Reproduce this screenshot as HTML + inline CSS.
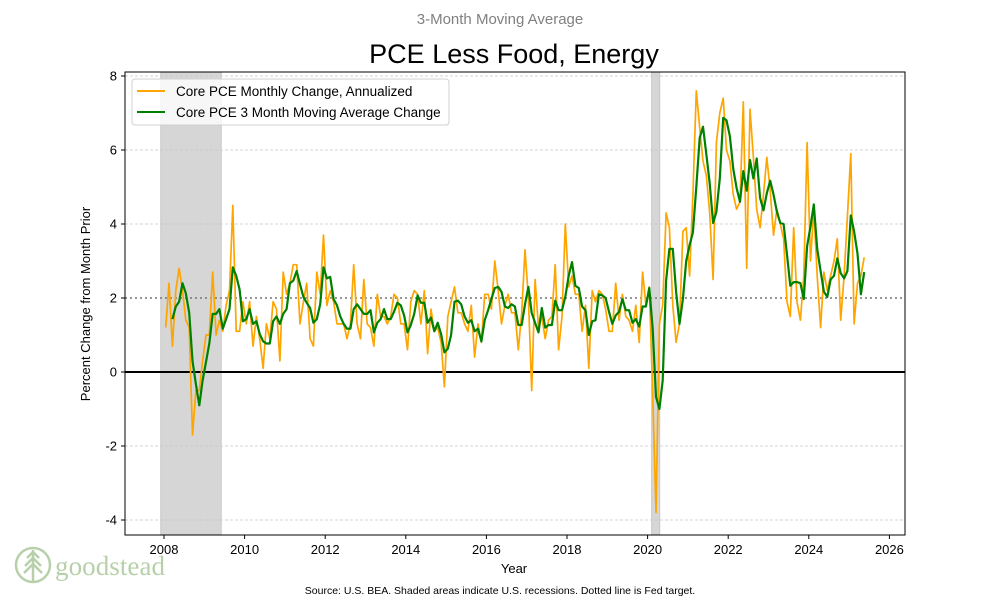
<!DOCTYPE html>
<html><head><meta charset="utf-8"><style>
body{margin:0;background:#fff;}
svg{display:block;font-family:"Liberation Sans",sans-serif;}
</style></head><body>
<svg id="chart" width="1000" height="600" viewBox="0 0 1000 600">
<text x="500" y="24" text-anchor="middle" font-size="15" fill="#808080">3-Month Moving Average</text>
<text x="514" y="63" text-anchor="middle" font-size="27" fill="#000">PCE Less Food, Energy</text>
<g id="plot"></g>
<text x="90" y="304" text-anchor="middle" font-size="13" transform="rotate(-90 90 304)">Percent Change from Month Prior</text>
<text x="514" y="573" text-anchor="middle" font-size="13">Year</text>
<text x="500" y="594" text-anchor="middle" font-size="10.5">Source:  U.S. BEA. Shaded areas indicate U.S. recessions. Dotted line is Fed target.</text>
<g fill="none" stroke="#b7d0aa" stroke-width="2.5">
<circle cx="33" cy="565" r="17"/>
<line x1="33" y1="550" x2="33" y2="582"/>
<path d="M33 552 L27 558 M33 552 L39 558 M33 558 L25 566 M33 558 L41 566 M33 564 L24 573 M33 564 L42 573"/>
<text x="55" y="575" font-family="'Liberation Serif',serif" font-size="27" fill="#b7d0aa" stroke="none" textLength="110">goodstead</text>
</g>
</svg>
<script>
const monthly = [1.2,2.4,0.7,2.2,2.8,2.2,1.4,1.2,-1.7,-0.5,-0.5,0.3,1.0,1.0,2.7,1.0,1.4,1.1,1.8,2.2,4.5,1.1,1.1,1.9,1.3,1.9,0.7,1.5,0.9,0.1,1.3,0.9,1.9,1.7,0.3,2.7,2.1,2.4,2.9,2.9,1.3,1.9,2.4,0.9,0.7,2.7,2.1,3.7,1.8,2.2,1.9,1.3,1.3,1.3,0.9,1.3,2.9,1.3,0.9,2.5,1.3,1.2,0.7,2.1,1.5,1.5,1.3,1.5,2.1,2.0,1.3,1.3,0.6,1.9,2.2,2.1,1.3,2.2,0.5,1.7,1.1,1.2,0.8,-0.4,1.5,1.9,2.3,1.6,1.6,1.3,1.1,1.8,0.4,1.3,0.8,2.1,2.1,1.7,3.0,2.2,1.3,1.8,2.1,1.6,1.6,0.6,1.6,3.3,2.0,-0.5,2.5,1.2,1.5,0.9,1.4,1.5,2.9,0.6,1.5,4.0,2.3,2.6,2.1,2.1,1.1,1.8,0.1,2.2,1.9,2.2,2.1,1.7,1.1,1.1,2.4,1.4,2.1,1.5,1.4,1.1,1.8,0.8,2.7,1.8,2.3,-0.5,-3.8,1.3,1.8,4.3,3.9,1.8,0.8,1.3,3.8,3.9,2.6,4.8,7.6,6.6,5.7,5.3,4.3,2.5,6.2,7.0,7.4,6.0,5.7,4.8,4.4,4.6,7.3,2.8,7.1,5.8,4.4,3.9,4.8,5.8,4.9,3.7,4.4,4.0,3.6,1.9,1.5,3.9,1.9,1.4,2.6,6.2,3.0,4.4,2.6,1.2,2.7,2.2,2.6,3.0,3.6,1.4,2.6,4.2,5.9,1.3,2.4,2.6,3.1];
const movingAvg = [null,null,1.43,1.77,1.9,2.4,2.13,1.6,0.3,-0.33,-0.9,-0.23,0.27,0.77,1.57,1.57,1.7,1.17,1.43,1.7,2.83,2.6,2.23,1.37,1.43,1.7,1.3,1.37,1.03,0.83,0.77,0.77,1.37,1.5,1.3,1.57,1.7,2.4,2.47,2.73,2.37,2.03,1.87,1.73,1.33,1.43,1.83,2.83,2.53,2.57,1.97,1.8,1.5,1.3,1.17,1.17,1.7,1.83,1.7,1.57,1.57,1.67,1.07,1.33,1.43,1.7,1.43,1.43,1.63,1.87,1.8,1.53,1.07,1.27,1.57,2.07,1.87,1.87,1.33,1.47,1.1,1.33,1.03,0.53,0.63,1.0,1.9,1.93,1.83,1.5,1.33,1.4,1.1,1.17,0.83,1.4,1.67,1.97,2.27,2.3,2.17,1.77,1.73,1.83,1.77,1.27,1.27,1.83,2.3,1.6,1.33,1.07,1.73,1.2,1.27,1.27,1.93,1.67,1.67,2.03,2.6,2.97,2.33,2.27,1.77,1.67,1.0,1.37,1.4,2.1,2.07,2.0,1.63,1.3,1.53,1.63,1.97,1.67,1.67,1.33,1.43,1.23,1.77,1.77,2.27,1.2,-0.67,-1.0,-0.23,2.47,3.33,3.33,2.17,1.3,1.97,3.0,3.43,3.77,5.0,6.33,6.63,5.87,5.1,4.03,4.33,5.23,6.87,6.8,6.37,5.5,4.97,4.6,5.43,4.9,5.73,5.23,5.77,4.7,4.37,4.83,5.17,4.8,4.33,4.03,4.0,3.17,2.33,2.43,2.43,2.4,1.97,3.4,3.93,4.53,3.33,2.73,2.17,2.03,2.5,2.6,3.07,2.67,2.53,2.73,4.23,3.8,3.2,2.1,2.7];
const startYear = 2008;
const yTicks = [-4,-2,0,2,4,6,8];
const xTicks = [2008,2010,2012,2014,2016,2018,2020,2022,2024,2026];
const recessions = [[2007.92,2009.42],[2020.1,2020.3]];

const NS='http://www.w3.org/2000/svg';
const L=125,R=905,T=72,B=535;
const xs = yr => 164 + (yr-2008)*40.3;
const xi = i => xs(startYear + (i+0.5)/12);
const ys = v => 372 - v*37;
const g=document.getElementById('plot');
function mk(tag,attrs,parent){const e=document.createElementNS(NS,tag);for(const k in attrs)e.setAttribute(k,attrs[k]);(parent||g).appendChild(e);return e;}

recessions.forEach(r=>{
  const e=mk('rect',{x:xs(r[0]),y:T,width:xs(r[1])-xs(r[0]),height:B-T,fill:'#d6d6d6',stroke:'#c8c8c8'});
  
  
});
yTicks.forEach(v=>{
  if(v===0||v===2) return;
  const e=mk('line',{x1:L,x2:R,y1:ys(v),y2:ys(v),stroke:'#c8c8c8','stroke-width':0.8,'stroke-dasharray':'3,2'});
  
  
});
const fed=mk('line',{x1:L,x2:R,y1:ys(2),y2:ys(2),stroke:'#777','stroke-width':1.5,'stroke-dasharray':'2,3'});


const zero=mk('line',{x1:L,x2:R,y1:ys(0),y2:ys(0),stroke:'#000','stroke-width':2});



function line(arr,color,w,name){
  let d='';arr.forEach((v,i)=>{if(v===null)return;d+=(d?'L':'M')+xi(i).toFixed(1)+' '+ys(v).toFixed(1);});
  const e=mk('path',{d:d,fill:'none',stroke:color,'stroke-width':w,'stroke-linejoin':'round'});
  
  
}
line(monthly,'#ffa500',1.7,'monthly-change-line');
line(movingAvg,'#008000',2.2,'moving-average-line');

const fr=mk('rect',{x:L,y:T,width:R-L,height:B-T,fill:'none',stroke:'#000','stroke-width':1});



yTicks.forEach(v=>{
  mk('line',{x1:L-4,x2:L,y1:ys(v),y2:ys(v),stroke:'#000'});
  const t=mk('text',{x:L-8,y:ys(v)+4.5,'text-anchor':'end','font-size':13});
  t.textContent=v;
  
  
});
xTicks.forEach(v=>{
  mk('line',{x1:xs(v),x2:xs(v),y1:B,y2:B+4,stroke:'#000'});
  const t=mk('text',{x:xs(v),y:B+19,'text-anchor':'middle','font-size':13});
  t.textContent=v;
  
  
});

const lg=mk('g',{});


mk('rect',{x:132,y:79,width:317,height:46,rx:3,fill:'rgba(255,255,255,0.8)',stroke:'#d0d0d0'},lg);
mk('line',{x1:137,x2:165,y1:91,y2:91,stroke:'#ffa500','stroke-width':2},lg);
mk('line',{x1:137,x2:165,y1:112,y2:112,stroke:'#008000','stroke-width':2},lg);
const t1=mk('text',{x:176,y:96,'font-size':13.5},lg);t1.textContent='Core PCE Monthly Change, Annualized';


const t2=mk('text',{x:176,y:117,'font-size':13.5},lg);t2.textContent='Core PCE 3 Month Moving Average Change';


</script>
</body></html>
